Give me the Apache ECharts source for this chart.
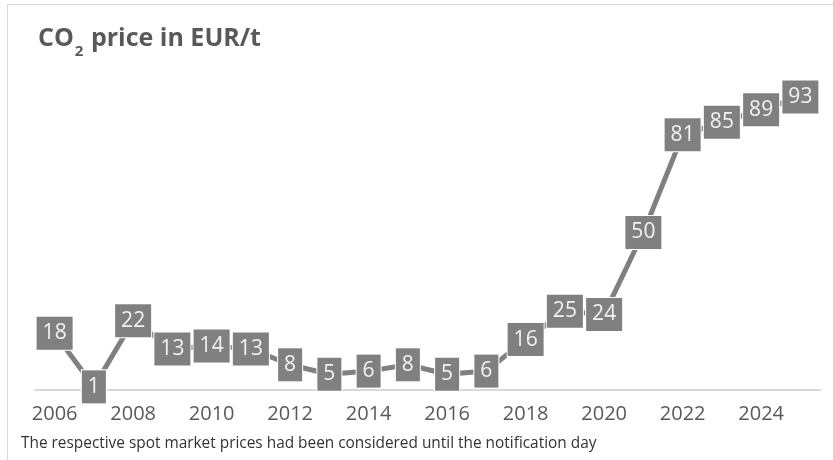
<!DOCTYPE html>
<html>
<head>
<meta charset="utf-8">
<script src="https://cdn.jsdelivr.net/npm/echarts@6/dist/echarts.min.js"></script>
<style>
  html, body { margin: 0; padding: 0; background: #fff; }
  #chart { width: 833px; height: 460px; }
</style>
</head>
<body>
<div id="chart"></div>
<script>
// CO2 price per year (EUR/t)
var years = ['2006', '2007', '2008', '2009', '2010', '2011', '2012', '2013', '2014', '2015',
             '2016', '2017', '2018', '2019', '2020', '2021', '2022', '2023', '2024', '2025'];
var prices = [18, 1, 22, 13, 14, 13, 8, 5, 6, 8, 5, 6, 16, 25, 24, 50, 81, 85, 89, 93];

var chart = echarts.init(document.getElementById('chart'));
var font = '"Open Sans", "Noto Sans", sans-serif';

var option = {
  backgroundColor: '#fff',
  animation: false,
  title: {
    text: '{t|CO}{s|2}{t| price in EUR/t}',
    left: 33,
    top: 21,
    textStyle: {
      rich: {
        t: { fontFamily: font, fontSize: 25, fontWeight: 'bold', color: '#595959', verticalAlign: 'bottom' },
        s: { fontFamily: font, fontSize: 15, fontWeight: 'bold', color: '#595959', padding: [0, 1, -8, 1], verticalAlign: 'bottom' }
      }
    }
  },
  grid: {
    left: 35,
    right: 13,
    top: 75,
    bottom: 70
  },
  xAxis: {
    type: 'category',
    data: years,
    boundaryGap: true,
    axisLine: { show: true, lineStyle: { color: '#d9d9d9', width: 2 } },
    axisTick: { show: false },
    axisLabel: {
      interval: 1,
      color: '#595959',
      fontFamily: font,
      fontSize: 20,
      margin: 14
    }
  },
  yAxis: {
    type: 'value',
    min: 0,
    max: 100,
    show: false,
    splitLine: { show: false }
  },
  series: [{
    type: 'line',
    data: prices,
    symbol: 'circle',
    symbolSize: 1,
    itemStyle: { color: '#808080' },
    lineStyle: { color: '#808080', width: 5 },
    label: {
      show: true,
      position: 'inside',
      backgroundColor: '#808080',
      color: '#f2f2f2',
      fontFamily: font,
      fontSize: 21,
      lineHeight: 24,
      padding: [5, 6, 4, 6],
      borderColor: '#fff',
      borderWidth: 1
    },
    z: 3
  }],
  graphic: [
    { type: 'line', shape: { x1: 7.5, y1: 4, x2: 7.5, y2: 460 }, style: { stroke: '#d9d9d9', lineWidth: 1 } },
    { type: 'line', shape: { x1: 7, y1: 4.5, x2: 833, y2: 4.5 }, style: { stroke: '#d9d9d9', lineWidth: 1 } },
    {
      type: 'text',
      left: 21,
      top: 436,
      style: {
        text: 'The respective spot market prices had been considered until the notification day',
        fill: '#333',
        font: '15.4px ' + font
      }
    }
  ]
};

chart.setOption(option);
</script>
</body>
</html>
